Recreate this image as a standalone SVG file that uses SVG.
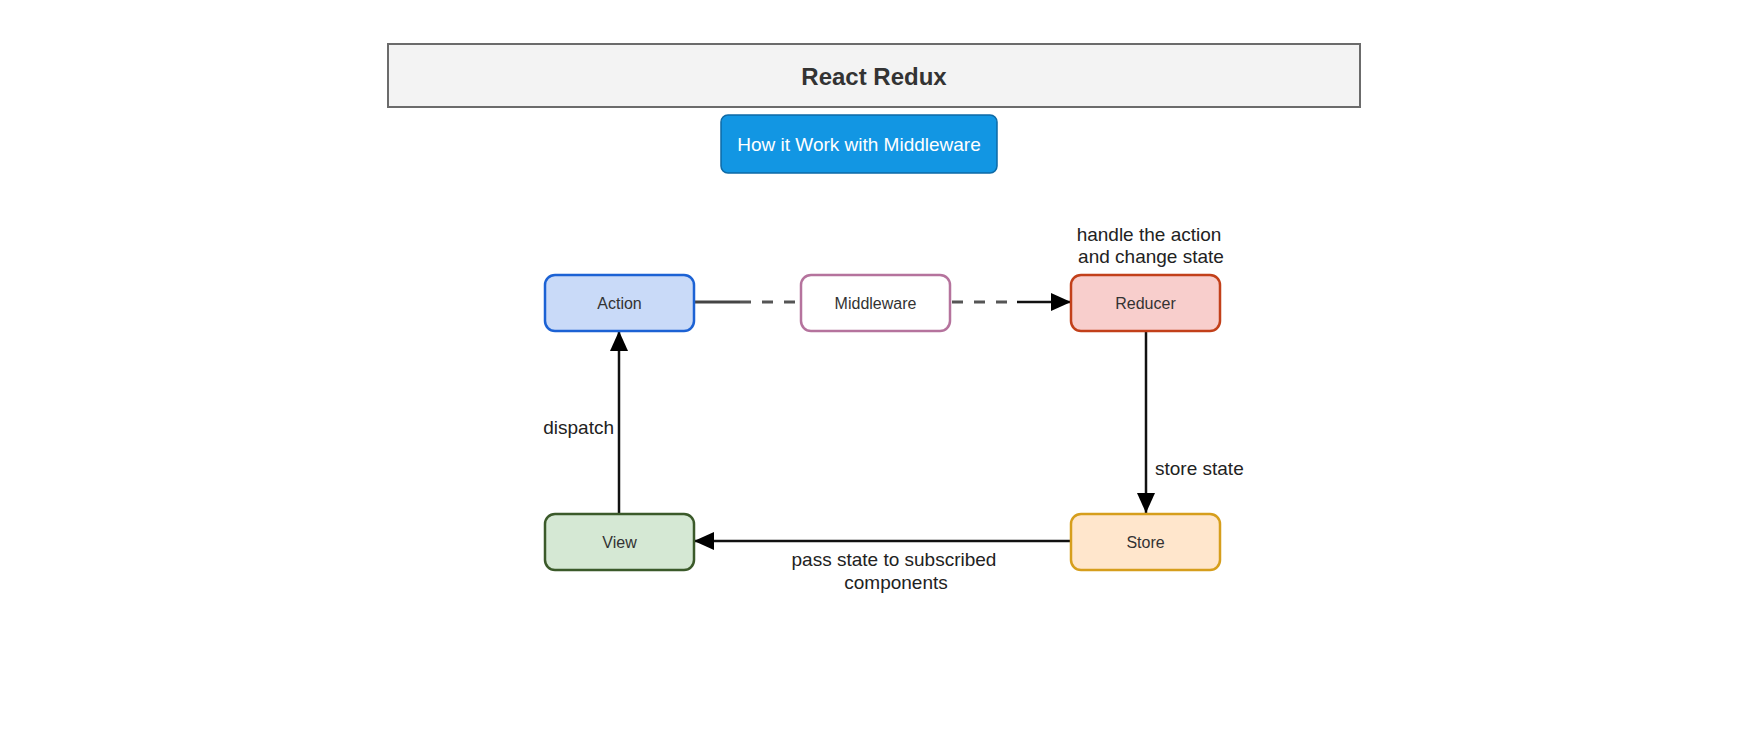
<svg xmlns="http://www.w3.org/2000/svg" width="1753" height="745" viewBox="0 0 1753 745">
<style>
text{font-family:"Liberation Sans",Arial,sans-serif;}
.node rect{stroke-width:2.5;}
.nt{font-size:16px;fill:#333;text-anchor:middle;dominant-baseline:central;}
.lbl{font-size:19px;fill:#222;}
.edge{stroke:#111;stroke-width:2.5;fill:none;}
.dash{stroke:#555;stroke-width:3;fill:none;stroke-dasharray:11 11;}
</style>
<defs>
<marker id="arr" viewBox="0 0 20 18" refX="20" refY="9" markerWidth="20" markerHeight="18" markerUnits="userSpaceOnUse" orient="auto">
<path d="M0,0 L20,9 L0,18 Z" fill="#000"/>
</marker>
</defs>
<rect width="1753" height="745" fill="#fff"/>
<g id="title">
<rect x="388" y="44" width="972" height="63" fill="#f3f3f3" stroke="#6b6b6b" stroke-width="2"/>
<text x="874" y="76" font-size="24" font-weight="bold" fill="#333" text-anchor="middle" dominant-baseline="central">React Redux</text>
</g>
<g id="subtitle">
<rect x="721" y="115" width="276" height="58" rx="7" fill="#1296e3" stroke="#0d6aa6" stroke-width="1.5"/>
<text x="859" y="144" font-size="19" fill="#fff" text-anchor="middle" dominant-baseline="central">How it Work with Middleware</text>
</g>
<g id="connectors">
<line x1="694" y1="302" x2="740" y2="302" stroke="#444" stroke-width="3"/>
<line x1="740" y1="302" x2="800" y2="302" class="dash"/>
<line x1="952" y1="302" x2="1010" y2="302" class="dash"/>
<line x1="1017" y1="302" x2="1071" y2="302" class="edge" stroke-width="3.5" marker-end="url(#arr)"/>
<line x1="1146" y1="331" x2="1146" y2="513" class="edge" marker-end="url(#arr)"/>
<line x1="1071" y1="541" x2="694" y2="541" class="edge" marker-end="url(#arr)"/>
<line x1="619" y1="513" x2="619" y2="331" class="edge" marker-end="url(#arr)"/>
</g>
<g id="labels">
<text class="lbl" x="1149" y="241" text-anchor="middle">handle the action</text>
<text class="lbl" x="1151" y="263" text-anchor="middle">and change state</text>
<text class="lbl" x="614" y="434" text-anchor="end">dispatch</text>
<text class="lbl" x="1155" y="475">store state</text>
<text class="lbl" x="894" y="566" text-anchor="middle">pass state to subscribed</text>
<text class="lbl" x="896" y="589" text-anchor="middle">components</text>
</g>
<g id="action" class="node">
<rect x="545" y="275" width="149" height="56" rx="10" fill="#c9daf8" stroke="#1c62d4"/>
<text class="nt" x="619.5" y="303">Action</text>
</g>
<g id="middleware" class="node">
<rect x="801" y="275" width="149" height="56" rx="10" fill="#ffffff" stroke="#b5739d"/>
<text class="nt" x="875.5" y="303">Middleware</text>
</g>
<g id="reducer" class="node">
<rect x="1071" y="275" width="149" height="56" rx="10" fill="#f8cecc" stroke="#c2401a"/>
<text class="nt" x="1145.5" y="303">Reducer</text>
</g>
<g id="view" class="node">
<rect x="545" y="514" width="149" height="56" rx="10" fill="#d5e8d4" stroke="#3b5a2a"/>
<text class="nt" x="619.5" y="542">View</text>
</g>
<g id="store" class="node">
<rect x="1071" y="514" width="149" height="56" rx="10" fill="#ffe6cc" stroke="#d69e1c"/>
<text class="nt" x="1145.5" y="542">Store</text>
</g>
</svg>
